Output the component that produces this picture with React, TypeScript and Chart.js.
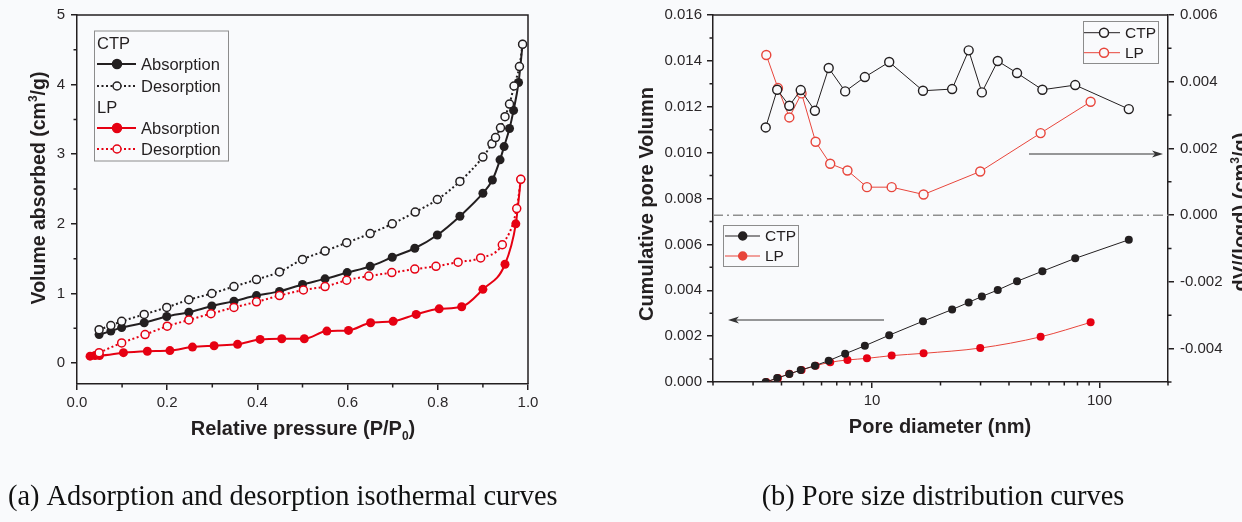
import React, { useEffect, useRef } from "react";
import { Chart, registerables } from "chart.js";
Chart.register(...registerables);

// ---------- (a) Adsorption / desorption isotherms ----------
const ctpAdsP = [0.049, 0.075, 0.099, 0.149, 0.199, 0.248, 0.299, 0.348, 0.398, 0.449, 0.5, 0.55, 0.599, 0.65, 0.699, 0.749, 0.799, 0.849, 0.9, 0.921, 0.938, 0.947, 0.959, 0.968, 0.979, 0.988];
const ctpAdsV = [0.41, 0.46, 0.51, 0.58, 0.67, 0.73, 0.82, 0.89, 0.97, 1.03, 1.13, 1.21, 1.3, 1.39, 1.52, 1.65, 1.84, 2.11, 2.44, 2.63, 2.92, 3.11, 3.37, 3.63, 4.03, 4.58];
const ctpDesP = [0.049, 0.075, 0.099, 0.149, 0.199, 0.248, 0.299, 0.348, 0.398, 0.449, 0.5, 0.55, 0.598, 0.65, 0.699, 0.75, 0.799, 0.849, 0.9, 0.92, 0.928, 0.939, 0.949, 0.959, 0.969, 0.981, 0.988];
const ctpDesV = [0.48, 0.54, 0.6, 0.7, 0.8, 0.91, 1.0, 1.1, 1.2, 1.31, 1.49, 1.61, 1.73, 1.86, 2.0, 2.17, 2.35, 2.61, 2.96, 3.15, 3.24, 3.38, 3.54, 3.72, 3.98, 4.26, 4.58];
const lpAdsP = [0.029, 0.04, 0.05, 0.103, 0.156, 0.206, 0.256, 0.304, 0.356, 0.406, 0.454, 0.504, 0.554, 0.602, 0.651, 0.701, 0.752, 0.803, 0.853, 0.9, 0.949, 0.973, 0.984];
const lpAdsV = [0.1, 0.11, 0.11, 0.15, 0.17, 0.18, 0.23, 0.25, 0.27, 0.34, 0.35, 0.35, 0.46, 0.47, 0.58, 0.6, 0.7, 0.78, 0.81, 1.06, 1.42, 2.0, 2.64];
const lpDesP = [0.049, 0.099, 0.151, 0.2, 0.248, 0.297, 0.348, 0.398, 0.449, 0.502, 0.55, 0.598, 0.647, 0.698, 0.749, 0.796, 0.845, 0.895, 0.943, 0.975, 0.984];
const lpDesV = [0.15, 0.29, 0.41, 0.53, 0.62, 0.71, 0.8, 0.88, 0.97, 1.05, 1.1, 1.19, 1.25, 1.3, 1.35, 1.39, 1.45, 1.51, 1.7, 2.22, 2.64];

// ---------- (b) Pore size distribution ----------
const ctpDiam = [3.41, 3.83, 4.33, 4.86, 5.61, 6.45, 7.62, 9.3, 11.9, 16.75, 22.5, 26.6, 30.4, 35.7, 43.4, 56.1, 78.2, 134.5];
const ctpCumVol = [0.0, 0.00017, 0.00035, 0.00052, 0.00071, 0.00093, 0.00123, 0.00158, 0.00204, 0.00265, 0.00316, 0.00347, 0.00373, 0.00401, 0.00439, 0.00483, 0.00539, 0.0062];
const ctpDvDlogd = [0.00263, 0.00376, 0.00328, 0.00375, 0.00313, 0.00441, 0.00371, 0.00414, 0.00459, 0.00373, 0.00378, 0.00494, 0.00368, 0.00462, 0.00426, 0.00376, 0.0039, 0.00318];
const lpDiam = [3.43, 3.86, 4.33, 4.9, 5.65, 6.55, 7.8, 9.5, 12.2, 16.85, 29.9, 55.1, 91.4];
const lpCumVol = [0.0, 0.00017, 0.00036, 0.00052, 0.00071, 0.00086, 0.00096, 0.00103, 0.00115, 0.00125, 0.00148, 0.00197, 0.0026];
const lpDvDlogd = [0.0048, 0.00381, 0.00293, 0.00365, 0.0022, 0.00154, 0.00134, 0.00084, 0.00084, 0.00062, 0.00131, 0.00246, 0.0034];

// ---------- Tick values ----------
const isoXTicks = [0, 0.2, 0.4, 0.6, 0.8, 1.0];
const isoXMinor = [0.1, 0.3, 0.5, 0.7, 0.9];
const isoYTicks = [0, 1, 2, 3, 4, 5];
const isoYMinor = [0.5, 1.5, 2.5, 3.5, 4.5];
const poreXTicks = [10, 100];
const poreXMinor = [2, 3, 4, 5, 6, 7, 8, 9, 20, 30, 40, 50, 60, 70, 80, 90, 200];
const cumTicks = [0, 0.002, 0.004, 0.006, 0.008, 0.01, 0.012, 0.014, 0.016];
const cumMinor = [0.001, 0.003, 0.005, 0.007, 0.009, 0.011, 0.013, 0.015];
const dvTicks = [-0.004, -0.002, 0, 0.002, 0.004, 0.006];
const dvMinor = [-0.005, -0.003, -0.001, 0.001, 0.003, 0.005];

const BG = "#f9fafc";
const INK = "#231f20";
const RED = "#e60012";
const RED_L = "#e8453b";
const FONT = "'Liberation Sans', Arial, sans-serif";
const SERIF = "'Liberation Serif', 'Times New Roman', serif";

const pts = (xs: number[], ys: number[]) => xs.map((x, i) => ({ x, y: ys[i] }));

type Part = { t: string; sup?: boolean; sub?: boolean };
function drawRich(ctx: CanvasRenderingContext2D, parts: Part[], cx: number, cy: number, size: number, rotate: boolean) {
  ctx.save();
  ctx.translate(cx, cy);
  if (rotate) ctx.rotate(-Math.PI / 2);
  const main = `bold ${size}px ${FONT}`;
  const small = `bold ${Math.round(size * 0.62)}px ${FONT}`;
  let total = 0;
  const widths: number[] = [];
  for (const p of parts) {
    ctx.font = p.sup || p.sub ? small : main;
    const w = ctx.measureText(p.t).width;
    widths.push(w);
    total += w;
  }
  let x = -total / 2;
  ctx.fillStyle = INK;
  ctx.textBaseline = "alphabetic";
  ctx.textAlign = "left";
  const base = size * 0.36;
  parts.forEach((p, i) => {
    ctx.font = p.sup || p.sub ? small : main;
    const dy = p.sup ? -size * 0.4 : p.sub ? size * 0.22 : 0;
    ctx.fillText(p.t, x, base + dy);
    x += widths[i];
  });
  ctx.restore();
}

function legendRow(ctx: CanvasRenderingContext2D, x0: number, x1: number, mx: number, y: number, color: string, lw: number, dash: number[], filled: boolean, r: number, text: string, tx: number, size: number) {
  ctx.save();
  ctx.strokeStyle = color;
  ctx.lineWidth = lw;
  ctx.setLineDash(dash);
  ctx.beginPath();
  ctx.moveTo(x0, y);
  ctx.lineTo(x1, y);
  ctx.stroke();
  ctx.setLineDash([]);
  ctx.beginPath();
  ctx.arc(mx, y, r, 0, Math.PI * 2);
  ctx.fillStyle = filled ? color : BG;
  ctx.fill();
  ctx.lineWidth = 1.5;
  ctx.stroke();
  ctx.fillStyle = INK;
  ctx.font = `${size}px ${FONT}`;
  ctx.textBaseline = "middle";
  ctx.textAlign = "left";
  ctx.fillText(text, tx, y + 1);
  ctx.restore();
}

function box(ctx: CanvasRenderingContext2D, x: number, y: number, w: number, h: number) {
  ctx.save();
  ctx.strokeStyle = "#8c8c8c";
  ctx.lineWidth = 1;
  ctx.strokeRect(x, y, w, h);
  ctx.restore();
}

function minor(ctx: CanvasRenderingContext2D, scale: any, values: number[], len: number, side: "bottom" | "left" | "right") {
  ctx.save();
  ctx.strokeStyle = INK;
  ctx.lineWidth = 1.5;
  ctx.beginPath();
  for (const v of values) {
    const p = scale.getPixelForValue(v);
    if (side === "bottom") {
      ctx.moveTo(p, scale.top);
      ctx.lineTo(p, scale.top + len);
    } else if (side === "left") {
      ctx.moveTo(scale.right, p);
      ctx.lineTo(scale.right - len, p);
    } else {
      ctx.moveTo(scale.left, p);
      ctx.lineTo(scale.left + len, p);
    }
  }
  ctx.stroke();
  ctx.restore();
}

function frame(ctx: CanvasRenderingContext2D, a: any, right: boolean) {
  ctx.save();
  ctx.strokeStyle = INK;
  ctx.lineWidth = 1.5;
  ctx.beginPath();
  ctx.moveTo(a.left, a.top);
  ctx.lineTo(a.right, a.top);
  if (right) ctx.lineTo(a.right, a.bottom);
  ctx.stroke();
  ctx.restore();
}

function arrow(ctx: CanvasRenderingContext2D, x0: number, x1: number, y: number) {
  ctx.save();
  ctx.strokeStyle = "#333";
  ctx.fillStyle = "#333";
  ctx.lineWidth = 1;
  const dir = Math.sign(x1 - x0);
  ctx.beginPath();
  ctx.moveTo(x0, y);
  ctx.lineTo(x1 - dir * 8, y);
  ctx.stroke();
  ctx.beginPath();
  ctx.moveTo(x1, y);
  ctx.lineTo(x1 - dir * 11, y - 3.5);
  ctx.lineTo(x1 - dir * 8, y);
  ctx.lineTo(x1 - dir * 11, y + 3.5);
  ctx.closePath();
  ctx.fill();
  ctx.restore();
}

function axisOpts(extra: any) {
  return {
    border: { display: true, color: INK, width: 1.5 },
    grid: { drawOnChartArea: false, drawTicks: true, tickLength: 6, color: INK, lineWidth: 1.5, tickColor: INK, tickWidth: 1.5 },
    ticks: { color: "#2b2729", font: { family: FONT, size: 15 }, padding: 4, autoSkip: false, maxRotation: 0, ...(extra.ticks || {}) },
    ...Object.fromEntries(Object.entries(extra).filter(([k]) => k !== "ticks")),
  };
}

function IsothermChart() {
  const ref = useRef<HTMLCanvasElement>(null);
  useEffect(() => {
    const decor = {
      id: "isoDecor",
      afterDraw(chart: any) {
        const ctx = chart.ctx as CanvasRenderingContext2D;
        const a = chart.chartArea;
        frame(ctx, a, true);
        minor(ctx, chart.scales.x, isoXMinor, 3.5, "bottom");
        minor(ctx, chart.scales.y, isoYMinor, 3.5, "left");
        drawRich(ctx, [{ t: "Volume absorbed (cm" }, { t: "3", sup: true }, { t: "/g)" }], 38, 188, 19.5, true);
        drawRich(ctx, [{ t: "Relative pressure (P/P" }, { t: "0", sub: true }, { t: ")" }], 303, 428, 20, false);
        // legend
        box(ctx, 94.5, 31, 134, 130);
        ctx.save();
        ctx.fillStyle = INK;
        ctx.font = `16.5px ${FONT}`;
        ctx.textBaseline = "middle";
        ctx.fillText("CTP", 97, 44);
        ctx.fillText("LP", 97, 108);
        ctx.restore();
        legendRow(ctx, 97, 136, 117, 64, INK, 2, [], true, 4.5, "Absorption", 141, 16.5);
        legendRow(ctx, 97, 136, 117, 86, INK, 2, [2, 2.5], false, 4, "Desorption", 141, 16.5);
        legendRow(ctx, 97, 136, 117, 128, RED, 2, [], true, 4.5, "Absorption", 141, 16.5);
        legendRow(ctx, 97, 136, 117, 149, RED, 2, [2, 2.5], false, 4, "Desorption", 141, 16.5);
        // caption
        ctx.save();
        ctx.fillStyle = "#111";
        ctx.font = `28.4px ${SERIF}`;
        ctx.textBaseline = "alphabetic";
        ctx.textAlign = "left";
        ctx.fillText("(a) Adsorption and desorption isothermal curves", 8, 505);
        ctx.restore();
      },
    };
    const open = (c: string) => ({ pointBackgroundColor: BG, pointBorderColor: c, pointRadius: 4, pointBorderWidth: 1.5, borderColor: c, borderWidth: 2, borderDash: [2, 2.5] });
    const fill = (c: string) => ({ pointBackgroundColor: c, pointBorderColor: c, pointRadius: 4.5, pointBorderWidth: 0, borderColor: c, borderWidth: 2 });
    const chart = new Chart(ref.current!, {
      type: "scatter",
      data: {
        datasets: [
          { label: "CTP Desorption", data: pts(ctpDesP, ctpDesV), showLine: true, cubicInterpolationMode: "monotone", ...open(INK) } as any,
          { label: "LP Desorption", data: pts(lpDesP, lpDesV), showLine: true, cubicInterpolationMode: "monotone", ...open(RED) } as any,
          { label: "CTP Absorption", data: pts(ctpAdsP, ctpAdsV), showLine: true, cubicInterpolationMode: "monotone", ...fill(INK) } as any,
          { label: "LP Absorption", data: pts(lpAdsP, lpAdsV), showLine: true, cubicInterpolationMode: "monotone", ...fill(RED) } as any,
        ],
      },
      options: {
        responsive: false,
        animation: false,
        events: [],
        layout: { padding: { top: 14, right: 93, left: 0, bottom: 0 } },
        plugins: { legend: { display: false }, tooltip: { enabled: false } },
        scales: {
          x: axisOpts({
            type: "linear",
            min: 0,
            max: 1,
            afterBuildTicks: (s: any) => { s.ticks = isoXTicks.map((v) => ({ value: v })); },
            afterFit: (s: any) => { s.height = 522 - 384; },
            ticks: { callback: (v: any) => Number(v).toFixed(1) },
          }),
          y: axisOpts({
            type: "linear",
            min: -0.3,
            max: 5,
            afterBuildTicks: (s: any) => { s.ticks = isoYTicks.map((v) => ({ value: v })); },
            afterFit: (s: any) => { s.width = 77; },
            ticks: { callback: (v: any) => String(v), padding: 6 },
          }),
        },
      } as any,
      plugins: [decor],
    });
    return () => chart.destroy();
  }, []);
  return <canvas ref={ref} width={621} height={522} style={{ position: "absolute", left: 0, top: 0, width: 621, height: 522 }} />;
}

function PoreChart() {
  const ref = useRef<HTMLCanvasElement>(null);
  useEffect(() => {
    const decor = {
      id: "poreDecor",
      beforeDatasetsDraw(chart: any) {
        const ctx = chart.ctx as CanvasRenderingContext2D;
        const a = chart.chartArea;
        const y0 = chart.scales.y2.getPixelForValue(0);
        ctx.save();
        ctx.strokeStyle = "#8f8f8f";
        ctx.lineWidth = 1.5;
        ctx.setLineDash([10, 4, 2, 4]);
        ctx.beginPath();
        ctx.moveTo(a.left, y0);
        ctx.lineTo(a.right, y0);
        ctx.stroke();
        ctx.restore();
        arrow(ctx, 263, 107, 320);
        arrow(ctx, 408, 542, 154);
      },
      afterDraw(chart: any) {
        const ctx = chart.ctx as CanvasRenderingContext2D;
        const a = chart.chartArea;
        frame(ctx, a, false);
        minor(ctx, chart.scales.x, poreXMinor, 3.5, "bottom");
        minor(ctx, chart.scales.y, cumMinor, 3.5, "left");
        minor(ctx, chart.scales.y2, dvMinor, 3.5, "right");
        drawRich(ctx, [{ t: "Cumulative pore Volumn" }], 25, 204, 20, true);
        drawRich(ctx, [{ t: "dV/(logd) (cm" }, { t: "3", sup: true }, { t: "/g)" }], 619, 212, 20, true);
        drawRich(ctx, [{ t: "Pore diameter (nm)" }], 319, 426, 20, false);
        // legends
        box(ctx, 462.5, 21.5, 75, 42);
        legendRow(ctx, 463, 499, 483, 32.7, INK, 1, [], false, 4.5, "CTP", 504, 15.5);
        legendRow(ctx, 463, 499, 483, 52.7, RED_L, 1, [], false, 4.5, "LP", 504, 15.5);
        box(ctx, 102.5, 225.5, 75, 41);
        legendRow(ctx, 104, 139, 121.7, 236, INK, 1, [], true, 4, "CTP", 144, 15.5);
        legendRow(ctx, 104, 139, 121.7, 256, RED_L, 1, [], true, 4, "LP", 144, 15.5);
        ctx.save();
        ctx.fillStyle = "#111";
        ctx.font = `28.4px ${SERIF}`;
        ctx.textBaseline = "alphabetic";
        ctx.textAlign = "center";
        ctx.fillText("(b) Pore size distribution curves", 322, 505);
        ctx.restore();
      },
    };
    const open = (c: string) => ({ pointBackgroundColor: BG, pointBorderColor: c, pointRadius: 4.5, pointBorderWidth: 1.4, borderColor: c, borderWidth: 1 });
    const fill = (c: string, lc: string) => ({ pointBackgroundColor: c, pointBorderColor: c, pointRadius: 4, pointBorderWidth: 0, borderColor: lc, borderWidth: 1 });
    const chart = new Chart(ref.current!, {
      type: "scatter",
      data: {
        datasets: [
          { label: "CTP cumulative", data: pts(ctpDiam, ctpCumVol), yAxisID: "y", showLine: true, ...fill(INK, INK) } as any,
          { label: "LP cumulative", data: pts(lpDiam, lpCumVol), yAxisID: "y", showLine: true, cubicInterpolationMode: "monotone", ...fill(RED, RED_L) } as any,
          { label: "CTP dV/dlogd", data: pts(ctpDiam, ctpDvDlogd), yAxisID: "y2", showLine: true, ...open(INK) } as any,
          { label: "LP dV/dlogd", data: pts(lpDiam, lpDvDlogd), yAxisID: "y2", showLine: true, ...open(RED_L) } as any,
        ],
      },
      options: {
        responsive: false,
        animation: false,
        events: [],
        layout: { padding: { top: 14, right: 0, left: 0, bottom: 0 } },
        plugins: { legend: { display: false }, tooltip: { enabled: false } },
        scales: {
          x: axisOpts({
            type: "logarithmic",
            min: 2,
            max: 200,
            afterBuildTicks: (s: any) => { s.ticks = poreXTicks.map((v) => ({ value: v })); },
            afterFit: (s: any) => { s.height = 522 - 382; },
            ticks: { callback: (v: any) => String(v) },
          }),
          y: axisOpts({
            type: "linear",
            position: "left",
            min: 0,
            max: 0.016,
            afterBuildTicks: (s: any) => { s.ticks = cumTicks.map((v) => ({ value: v })); },
            afterFit: (s: any) => { s.width = 92; },
            ticks: { callback: (v: any) => Number(v).toFixed(3), padding: 5 },
          }),
          y2: axisOpts({
            type: "linear",
            position: "right",
            min: -0.005,
            max: 0.006,
            afterBuildTicks: (s: any) => { s.ticks = dvTicks.map((v) => ({ value: v })); },
            afterFit: (s: any) => { s.width = 74; },
            ticks: { callback: (v: any) => Number(v).toFixed(3), padding: 6 },
          }),
        },
      } as any,
      plugins: [decor],
    });
    return () => chart.destroy();
  }, []);
  return <canvas ref={ref} width={621} height={522} style={{ position: "absolute", left: 621, top: 0, width: 621, height: 522 }} />;
}

export default function App() {
  return (
    <div style={{ position: "fixed", left: 0, top: 0, width: 1242, height: 522, background: BG, overflow: "hidden" }}>
      <IsothermChart />
      <PoreChart />
    </div>
  );
}
